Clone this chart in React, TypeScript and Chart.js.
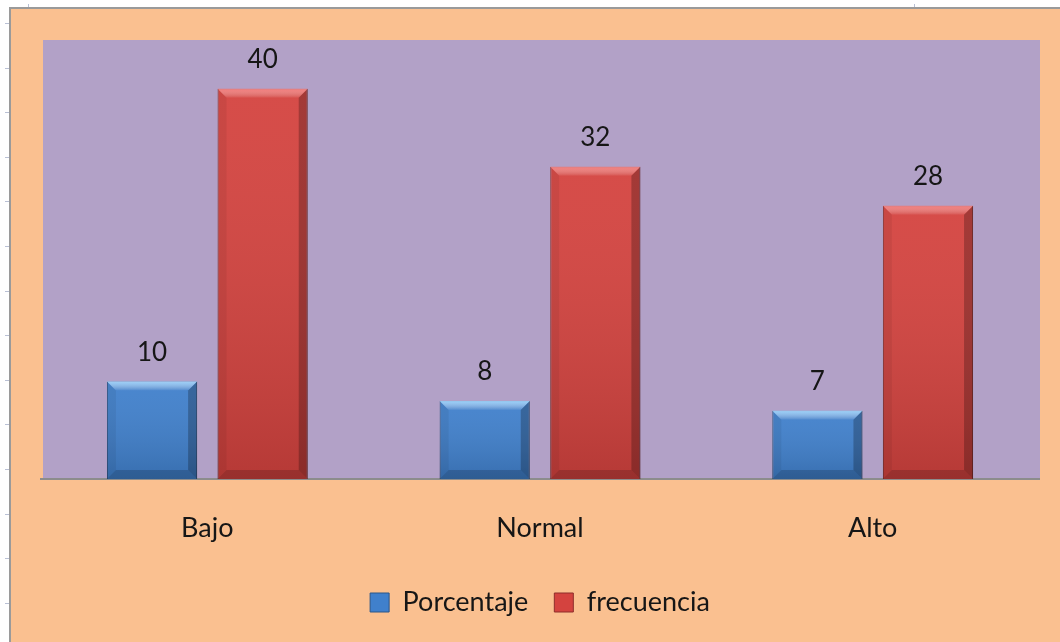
import React, { useEffect, useRef } from "react";
import { Chart, registerables } from "chart.js";

Chart.register(...registerables);

const categories = ["Bajo", "Normal", "Alto"];
const seriesNames = ["Porcentaje", "frecuencia"];
const porcentaje = [10, 8, 7];
const frecuencia = [40, 32, 28];
const yMin = 0;
const yMax = 45;

const FONT = "Lato, 'Open Sans', sans-serif";
const TEXT = "#161616";
const ORANGE = "#FAC090";
const PURPLE = "#B2A1C7";
const BLUE = "#4080CC";
const RED = "#D4433F";

const backgroundPlugin = {
  id: "sheetBackground",
  beforeDraw(chart: any) {
    const { ctx, width, height, chartArea } = chart;
    ctx.save();
    ctx.fillStyle = "#ffffff";
    ctx.fillRect(0, 0, width, height);
    // spreadsheet row ticks on the left edge
    ctx.fillStyle = "#b9c0d4";
    const rowStep = 44.6;
    for (let y = 23; y < height; y += rowStep) {
      ctx.fillRect(5, Math.round(y), 5, 1);
    }
    ctx.fillRect(28, 4, 1, 4);
    ctx.fillRect(914, 4, 1, 4);
    // chart frame
    ctx.fillStyle = "#9a9a9a";
    ctx.fillRect(9, 7, 2, height - 7);
    ctx.fillRect(9, 7, width - 9, 2);
    ctx.fillStyle = ORANGE;
    ctx.fillRect(11, 9, width - 11, height - 9);
    ctx.fillStyle = PURPLE;
    ctx.fillRect(
      chartArea.left + 2,
      chartArea.top,
      chartArea.right - chartArea.left - 1,
      chartArea.bottom - chartArea.top
    );
    ctx.restore();
  },
};

const bevelPlugin = {
  id: "barBevel",
  afterDatasetsDraw(chart: any) {
    const { ctx } = chart;
    ctx.save();
    chart.data.datasets.forEach((ds: any, di: number) => {
      const meta = chart.getDatasetMeta(di);
      const light = di === 0 ? "rgba(160,215,255,0.9)" : "rgba(255,140,140,0.75)";
      meta.data.forEach((el: any) => {
        const { x, y, width, base } = el.getProps(["x", "y", "width", "base"], true);
        const l = x - width / 2;
        const r = x + width / 2;
        const t = y;
        const b = base;
        const bv = 9;
        const g = ctx.createLinearGradient(0, t, 0, b);
        g.addColorStop(0, "rgba(255,255,255,0.05)");
        g.addColorStop(1, "rgba(0,0,0,0.14)");
        ctx.fillStyle = g;
        ctx.fillRect(l, t, width, b - t);
        const poly = (pts: number[][], fill: any) => {
          ctx.beginPath();
          ctx.moveTo(pts[0][0], pts[0][1]);
          for (let i = 1; i < pts.length; i++) ctx.lineTo(pts[i][0], pts[i][1]);
          ctx.closePath();
          ctx.fillStyle = fill;
          ctx.fill();
        };
        const tg = ctx.createLinearGradient(0, t, 0, t + bv);
        tg.addColorStop(0, light);
        tg.addColorStop(1, "rgba(255,255,255,0.04)");
        poly([[l, t], [r, t], [r - bv, t + bv], [l + bv, t + bv]], tg);
        poly([[l, t], [l + bv, t + bv], [l + bv, b - bv], [l, b]], "rgba(0,0,0,0.06)");
        poly([[r, t], [r - bv, t + bv], [r - bv, b - bv], [r, b]], "rgba(0,0,0,0.24)");
        poly([[l, b], [l + bv, b - bv], [r - bv, b - bv], [r, b]], "rgba(0,0,0,0.16)");
      });
    });
    ctx.restore();
  },
};

const valueLabelPlugin = {
  id: "valueLabels",
  afterDatasetsDraw(chart: any) {
    const { ctx } = chart;
    ctx.save();
    ctx.font = `26px ${FONT}`;
    ctx.fillStyle = TEXT;
    ctx.textAlign = "center";
    ctx.textBaseline = "middle";
    chart.data.datasets.forEach((ds: any, di: number) => {
      const meta = chart.getDatasetMeta(di);
      meta.data.forEach((el: any, i: number) => {
        const { x, y } = el.getProps(["x", "y"], true);
        ctx.fillText(String(ds.data[i]), x, y - 29);
      });
    });
    ctx.restore();
  },
};

export default function App() {
  const canvasRef = useRef<HTMLCanvasElement | null>(null);

  useEffect(() => {
    const canvas = canvasRef.current;
    if (!canvas) return;
    const chart = new Chart(canvas, {
      type: "bar",
      data: {
        labels: categories,
        datasets: [
          {
            label: seriesNames[0],
            data: porcentaje,
            backgroundColor: BLUE,
            borderColor: "#2b5689",
            borderWidth: 1,
          },
          {
            label: seriesNames[1],
            data: frecuencia,
            backgroundColor: RED,
            borderColor: "#8e2d2b",
            borderWidth: 1,
          },
        ],
      },
      options: {
        responsive: false,
        animation: false,
        events: [],
        datasets: {
          bar: {
            categoryPercentage: 0.665,
            barPercentage: 0.815,
          },
        },
        layout: {
          padding: { left: 41, right: 21, top: 40, bottom: 16 },
        },
        scales: {
          x: {
            grid: { display: false, drawTicks: false },
            border: { display: true, color: "#8c8c8c", width: 2 },
            ticks: {
              padding: 33,
              color: TEXT,
              font: { family: FONT, size: 27 },
            },
            afterFit: (scale: any) => {
              scale.height = 84;
            },
          },
          y: {
            display: false,
            min: yMin,
            max: yMax,
          },
        },
        plugins: {
          legend: {
            position: "bottom",
            labels: {
              boxWidth: 19,
              boxHeight: 19,
              padding: 26,
              color: TEXT,
              font: { family: FONT, size: 27 },
            },
          },
          tooltip: { enabled: false },
        },
      },
      plugins: [backgroundPlugin, bevelPlugin, valueLabelPlugin],
    });
    return () => chart.destroy();
  }, []);

  return (
    <div style={{ position: "fixed", left: 0, top: 0, width: 1060, height: 642 }}>
      <canvas ref={canvasRef} width={1060} height={642} style={{ display: "block" }} />
    </div>
  );
}
